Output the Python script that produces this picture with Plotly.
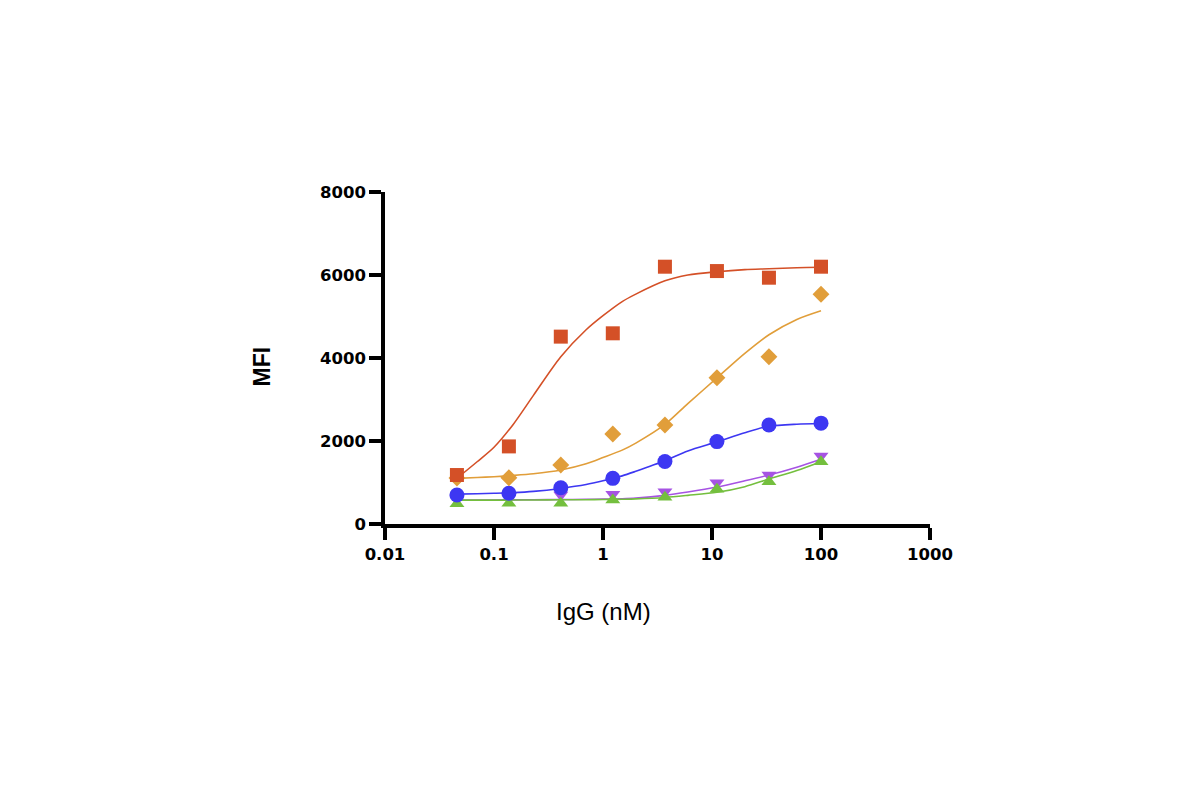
import plotly.graph_objects as go

# IgG concentrations (nM), 3-fold dilutions
conc = [0.0457, 0.137, 0.41, 1.23, 3.7, 11.1, 33.3, 100]

red_pts = [1180, 1870, 4515, 4595, 6200, 6095, 5935, 6200]
orange_pts = [1110, 1115, 1420, 2170, 2385, 3525, 4030, 5535]
blue_pts = [700, 740, 875, 1100, 1505, 1985, 2385, 2430]
purple_pts = [600, 650, 700, 715, 780, 995, 1180, 1640]
green_pts = [485, 500, 500, 578, 643, 836, 1020, 1500]

# fitted curves at these concentrations
curve_x = [0.0457, 0.07, 0.1, 0.15, 0.23, 0.41, 0.7, 1, 1.5, 2, 3.7, 6, 11.1, 20, 33.3, 60, 100]
red_fit = [1100, 1500, 1850, 2400, 3100, 4030, 4680, 5020, 5360, 5540, 5860, 6000, 6080, 6130, 6150, 6175, 6185]
orange_fit = [1100, 1120, 1140, 1170, 1210, 1300, 1450, 1600, 1780, 1950, 2400, 2900, 3520, 4110, 4560, 4930, 5140]
blue_fit = [721, 730, 740, 755, 785, 857, 950, 1040, 1160, 1270, 1522, 1760, 1979, 2200, 2356, 2405, 2420]
purple_fit = [580, 580, 580, 582, 585, 590, 595, 600, 610, 625, 690, 770, 890, 1040, 1180, 1370, 1560]
green_fit = [575, 575, 575, 577, 580, 583, 586, 590, 597, 605, 640, 690, 764, 900, 1084, 1290, 1502]

series = [
    ("purple", purple_pts, purple_fit, "#a653e3", "triangle-down", 13),
    ("green", green_pts, green_fit, "#74bf3e", "triangle-up", 13),
    ("blue", blue_pts, blue_fit, "#3d37f2", "circle", 15),
    ("orange", orange_pts, orange_fit, "#e19e3a", "diamond", 13),
    ("red", red_pts, red_fit, "#d45027", "square", 14),
]

fig = go.Figure()

for name, pts, fit, color, symbol, size in series:
    fig.add_trace(go.Scatter(
        x=curve_x, y=fit, mode="lines",
        line={"color": color, "width": 1.6, "shape": "spline", "smoothing": 0.8},
        showlegend=False, hoverinfo="skip",
    ))
    fig.add_trace(go.Scatter(
        x=conc, y=pts, mode="markers", name=name,
        marker={"symbol": symbol, "size": size, "color": color,
                "line": {"width": 0}},
        showlegend=False,
    ))

axis_common = {
    "showline": True,
    "linecolor": "black",
    "linewidth": 3.5,
    "ticks": "outside",
    "ticklen": 12,
    "tickwidth": 3.5,
    "tickcolor": "black",
    "showgrid": False,
    "zeroline": False,
    "tickfont": {"family": "DejaVu Sans", "size": 16.5, "color": "black", "weight": "bold"},
}

fig.update_layout(
    width=1200,
    height=800,
    paper_bgcolor="white",
    plot_bgcolor="white",
    margin={"l": 377, "r": 278, "t": 184, "b": 284},
    xaxis={
        **axis_common,
        "type": "log",
        "range": [-2, 3],
        "tickvals": [0.01, 0.1, 1, 10, 100, 1000],
        "ticktext": ["0.01", "0.1", "1", "10", "100", "1000"],
    },
    yaxis={
        **axis_common,
        "range": [0, 8000],
        "tickvals": [0, 2000, 4000, 6000, 8000],
    },
    annotations=[
        {"text": "IgG (nM)", "xref": "x", "yref": "paper", "x": 0, "y": -0.265,
         "showarrow": False, "xanchor": "center", "yanchor": "middle",
         "font": {"family": "Liberation Sans", "size": 24, "color": "black"}},
        {"text": "<b>MFI</b>", "xref": "paper", "yref": "paper", "x": -0.226, "y": 0.474,
         "showarrow": False, "xanchor": "center", "yanchor": "middle", "textangle": -90,
         "font": {"family": "Liberation Sans", "size": 23, "color": "black"}},
    ],
)

fig.write_html("out.html")
